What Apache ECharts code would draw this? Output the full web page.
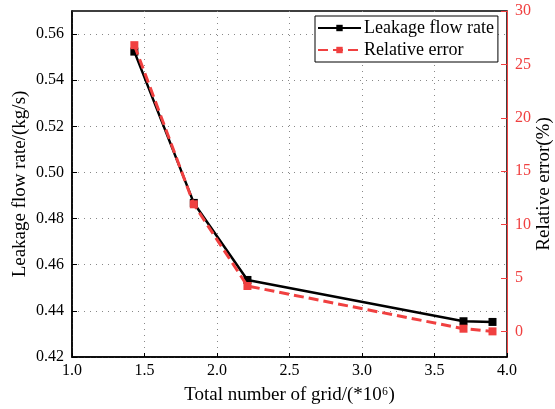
<!DOCTYPE html>
<html>
<head>
<meta charset="utf-8">
<script src="https://cdn.jsdelivr.net/npm/echarts@6/dist/echarts.min.js"></script>
<style>html,body{margin:0;padding:0;background:#fff}#c{width:555px;height:409px}</style>
</head>
<body>
<div id="c"></div>
<script>
const gridSizes = [1.43, 1.84, 2.21, 3.70, 3.90];
const leakageFlow = [0.5524, 0.4868, 0.4534, 0.4355, 0.4352];
const relativeError = [26.8, 11.9, 4.25, 0.25, 0.0];
const leftTicks = [0.42, 0.44, 0.46, 0.48, 0.50, 0.52, 0.54, 0.56];
const rightTicks = [0, 5, 10, 15, 20, 25, 30];
const xTicks = [1.0, 1.5, 2.0, 2.5, 3.0, 3.5, 4.0];

const RED = '#f04040';
const FONT = '"Liberation Serif", "Times New Roman", serif';
const chart = echarts.init(document.getElementById('c'));
chart.setOption({
  animation: false,
  textStyle: { fontFamily: FONT },
  grid: { left: 72, right: 48, top: 11, bottom: 52, show: true, borderColor: '#000', borderWidth: 1.5, outerBoundsMode: 'none', containLabel: false },
  legend: {
    left: 315, top: 16, orient: 'vertical',
    backgroundColor: '#fff', borderColor: '#000', borderWidth: 1, borderRadius: 0,
    padding: [3, 4, 3, 2], itemGap: 4, itemWidth: 43, itemHeight: 8,
    textStyle: { fontFamily: FONT, fontSize: 18, lineHeight: 18, color: '#000', padding: [0, 0, 0, -2] },
    data: ['Leakage flow rate', 'Relative error']
  },
  xAxis: {
    type: 'value', min: 1, max: 4, interval: 0.5,
    name: 'Total number of grid/(*10⁶)', nameLocation: 'middle', nameGap: 29, nameMoveOverlap: false,
    nameTextStyle: { fontFamily: FONT, fontSize: 19, color: '#000' },
    axisLine: { onZero: false, lineStyle: { color: '#000', width: 1.5 } },
    axisTick: { inside: true, length: 4, lineStyle: { color: '#000' }, customValues: xTicks },
    axisLabel: { fontFamily: FONT, fontSize: 16, color: '#000', margin: 6, customValues: xTicks, formatter: v => v.toFixed(1) },
    splitLine: { show: true, lineStyle: { color: '#888', type: [1, 5], width: 1 } }
  },
  yAxis: [{
    type: 'value', min: 0.42, max: 0.57, position: 'left',
    name: 'Leakage flow rate/(kg/s)', nameLocation: 'middle', nameGap: 42, nameMoveOverlap: false,
    nameTextStyle: { fontFamily: FONT, fontSize: 19, color: '#000' },
    axisLine: { show: true, onZero: false, lineStyle: { color: '#000', width: 1.5 } },
    axisTick: { inside: true, length: 5, lineStyle: { color: '#000' }, customValues: leftTicks },
    axisLabel: { fontFamily: FONT, fontSize: 16, color: '#000', margin: 8, customValues: leftTicks, formatter: v => v.toFixed(2) },
    splitLine: { show: true, lineStyle: { color: '#888', type: [1, 5], width: 1 } }
  }, {
    type: 'value', min: -2.4, max: 30, position: 'right',
    name: 'Relative error(%)', nameLocation: 'middle', nameGap: 28, nameRotate: 90, nameMoveOverlap: false,
    nameTextStyle: { fontFamily: FONT, fontSize: 19, color: '#000' },
    axisLine: { show: true, onZero: false, lineStyle: { color: RED, width: 1 } },
    axisTick: { inside: true, length: 6, lineStyle: { color: RED }, customValues: rightTicks },
    axisLabel: { fontFamily: FONT, fontSize: 16, color: RED, margin: 8, customValues: rightTicks },
    splitLine: { show: false }
  }],
  series: [{
    name: 'Leakage flow rate', type: 'line', yAxisIndex: 0,
    data: gridSizes.map((x, i) => [x, leakageFlow[i]]),
    symbol: 'rect', symbolSize: 8,
    lineStyle: { color: '#000', width: 2.5 },
    itemStyle: { color: '#000' }, z: 3
  }, {
    name: 'Relative error', type: 'line', yAxisIndex: 1,
    data: gridSizes.map((x, i) => [x, relativeError[i]]),
    symbol: 'rect', symbolSize: 8,
    lineStyle: { color: RED, width: 3, type: [10, 5] },
    itemStyle: { color: RED }, z: 4
  }]
});
</script>
</body>
</html>
